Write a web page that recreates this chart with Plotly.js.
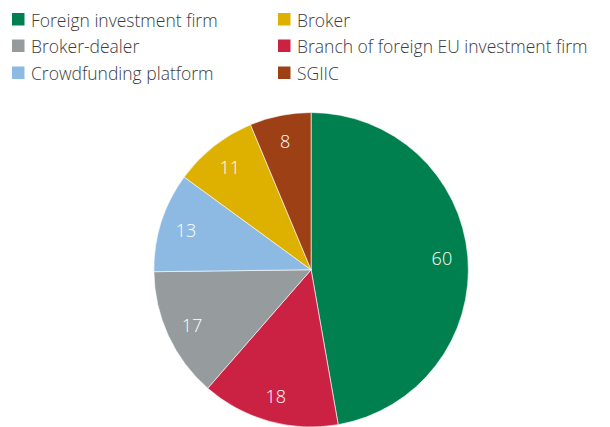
<!DOCTYPE html>
<html>
<head>
<meta charset="utf-8">
<script src="https://cdn.plot.ly/plotly-3.0.1.min.js"></script>
<style>html,body{margin:0;padding:0;background:#fff;}#chart{width:610px;height:427px;}</style>
</head>
<body>
<div id="chart"></div>
<script>
const labels = ["Foreign investment firm", "Branch of foreign EU investment firm", "Broker-dealer", "Crowdfunding platform", "Broker", "SGIIC"];
const values = [60, 18, 17, 13, 11, 8];
const colors = ["#00804F", "#CB2244", "#969B9D", "#8DBAE2", "#DEB100", "#9E4016"];
// legend layout order (row-wise, two columns)
const legendOrder = ["Foreign investment firm", "Broker", "Broker-dealer", "Branch of foreign EU investment firm", "Crowdfunding platform", "SGIIC"];

const W = 610, H = 427;
const colX = [12, 278];
const rowY = [19.5, 46, 73];
const shapes = [], annotations = [];
legendOrder.forEach((lab, i) => {
  const c = i % 2, r = Math.floor(i / 2);
  const col = colors[labels.indexOf(lab)];
  const x0 = colX[c], y0 = rowY[r] - 6.5;
  shapes.push({type: 'rect', xref: 'paper', yref: 'paper',
    x0: x0 / W, x1: (x0 + 12.5) / W, y0: 1 - (y0 + 12.5) / H, y1: 1 - y0 / H,
    fillcolor: col, line: {width: 0}});
  annotations.push({xref: 'paper', yref: 'paper', x: (x0 + 17) / W, y: 1 - rowY[r] / H,
    xanchor: 'left', yanchor: 'middle', showarrow: false, text: lab,
    font: {family: 'Open Sans', size: 17.5, color: '#3c3c3c', weight: 300}});
});

const dom = {x: [0.25, 0.77], y: [0, 0.7365]};
const data = [{
  type: 'pie', labels: labels, values: values, sort: false, direction: 'clockwise', rotation: 0,
  marker: {colors: colors, line: {color: '#ffffff', width: 0.6}},
  textinfo: 'none', domain: dom, showlegend: false, hoverinfo: 'label+value'
}, {
  // transparent overlay ring, used only to place the value labels further out
  type: 'pie', labels: labels, values: values, sort: false, direction: 'clockwise', rotation: 0,
  hole: 0.67,
  marker: {colors: labels.map(() => 'rgba(0,0,0,0)'), line: {width: 0}},
  textinfo: 'value', textposition: 'inside', insidetextorientation: 'horizontal',
  textfont: {family: 'Open Sans', size: 18, color: '#ffffff', weight: 300},
  domain: dom, showlegend: false, hoverinfo: 'skip'
}];
const layout = {
  width: W, height: H, margin: {l: 0, r: 0, t: 0, b: 0},
  paper_bgcolor: '#ffffff', showlegend: false,
  shapes: shapes, annotations: annotations
};
Plotly.newPlot('chart', data, layout, {displayModeBar: false, staticPlot: true});
</script>
</body>
</html>
